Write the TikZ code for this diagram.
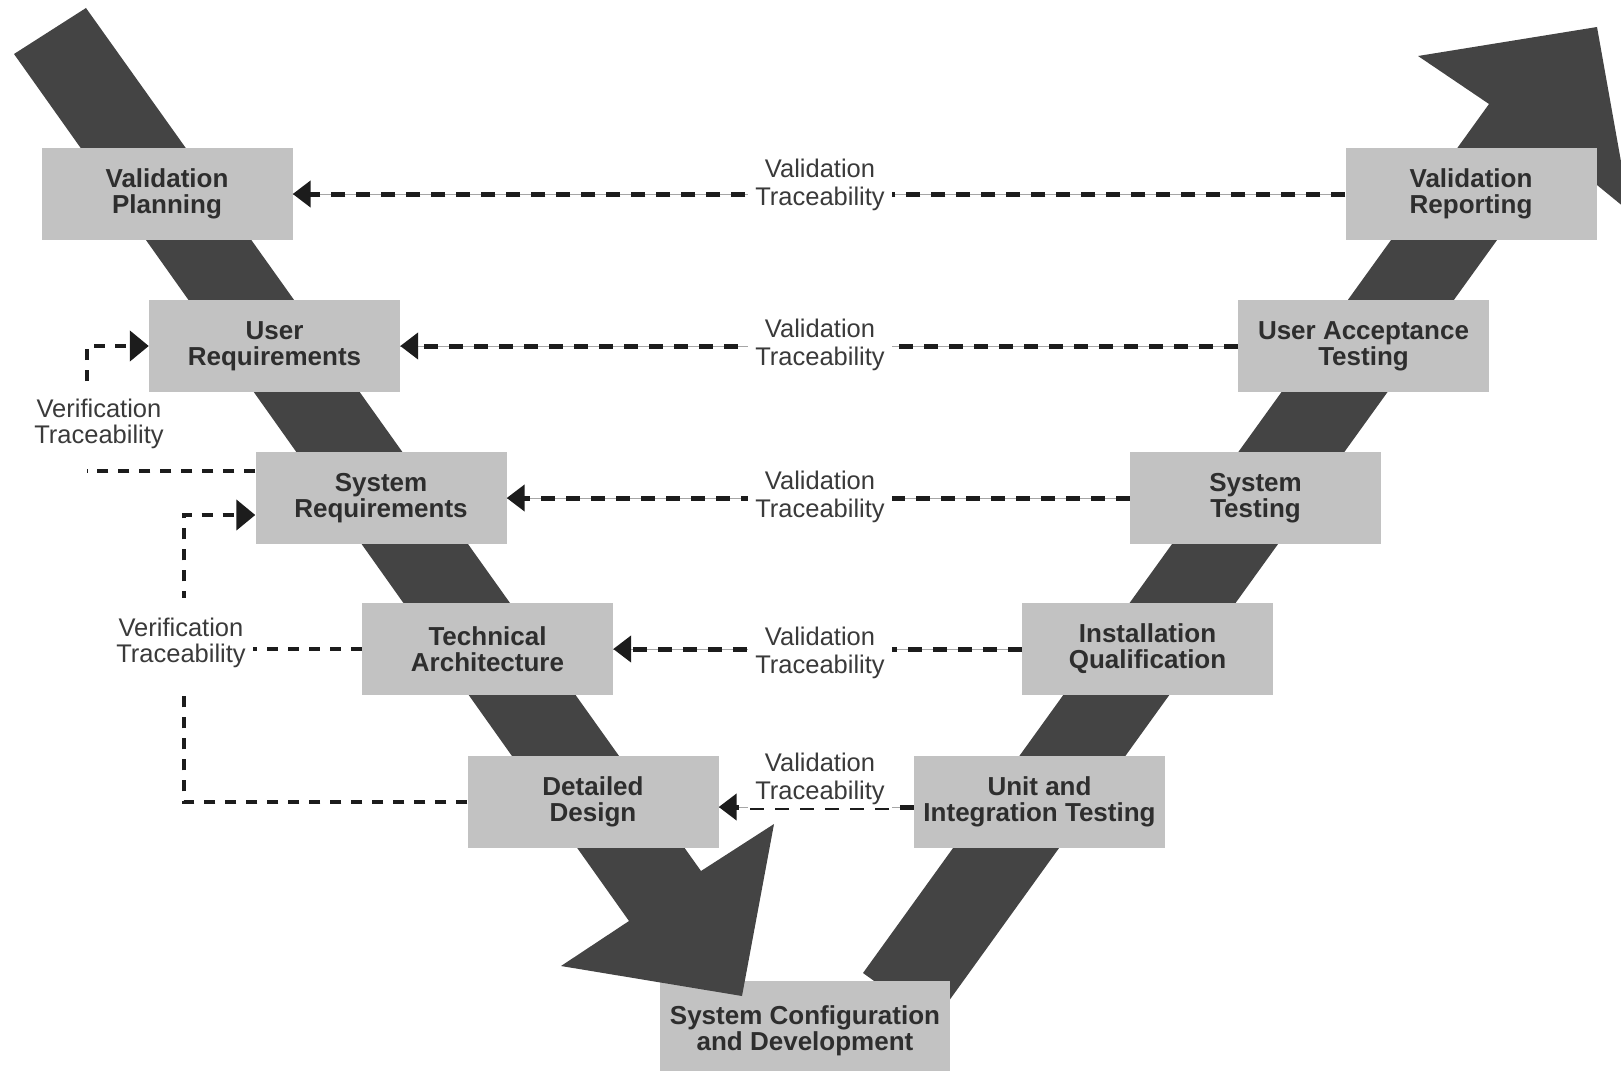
\documentclass[tikz,border=0pt]{standalone}
\usepackage{fontspec}
\setmainfont{Liberation Sans}
\usetikzlibrary{arrows.meta}
\definecolor{bandgray}{HTML}{444444}
\definecolor{boxfill}{HTML}{C2C2C2}
\definecolor{boxtext}{HTML}{2E2E2E}
\definecolor{dashcol}{HTML}{1C1C1C}
\definecolor{labeltext}{HTML}{3A3A3A}

\begin{document}
\begin{tikzpicture}[x=1pt,y=-1pt,
  stage/.style={rectangle, fill=boxfill, minimum width=251pt, minimum height=92pt,
    inner sep=0pt, align=center, text=boxtext, font=\fontsize{26}{26}\selectfont\bfseries},
  vlabel/.style={fill=white, align=center, text=labeltext,
    font=\fontsize{25.5}{28.5}\selectfont, inner xsep=7pt, inner ysep=3pt},
  verlabel/.style={vlabel, font=\fontsize{25.5}{26.5}\selectfont, inner ysep=0pt},
  trace/.style={draw=dashcol, line width=5pt, dash pattern=on 14pt off 11pt,
    -{Triangle[length=18pt,width=26pt]},
    preaction={draw=gray!70, solid, line width=1pt, -}},
  verif/.style={draw=dashcol, line width=4.5pt, dash pattern=on 11pt off 10pt},
  verifarrow/.style={verif, -{Triangle[length=19pt,width=30pt]}},
]
\useasboundingbox (0,0) rectangle (1621,1070);
\clip (0,0) rectangle (1621,1070);

% rising band of the V (testing side)
\fill[bandgray] (863,973) -- (1489,104) -- (1418,56) -- (1597,27) -- (1630,212)
  -- (1559,154) -- (933,1023) -- cycle;

% bottom of the V
\node[stage, minimum width=290pt, minimum height=100pt] (scd) at (805,1031)
  {System Configuration\\and Development};

% falling band of the V (specification side)
\fill[bandgray] (86,8) -- (701,871) -- (774,824) -- (742,996) -- (561,966)
  -- (629,921) -- (14,54) -- cycle;

% specification stages
\node[stage] (vp) at (167,194) {Validation\\Planning};
\node[stage] (ur) at (274.5,346) {User\\Requirements};
\node[stage] (sr) at (381,498) {System\\Requirements};
\node[stage] (ta) at (487.5,649) {Technical\\Architecture};
\node[stage] (dd) at (593,802) {Detailed\\Design};

% testing stages
\node[stage] (uit) at (1039.5,802) {Unit and\\Integration Testing};
\node[stage] (iq)  at (1147.5,649) {Installation\\Qualification};
\node[stage] (st)  at (1255.5,498) {System\\Testing};
\node[stage] (uat) at (1363.5,346) {User Acceptance\\Testing};
\node[stage] (vr)  at (1471,194) {Validation\\Reporting};

% validation traceability links
\draw[trace] (vr.west) -- (vp.east);
\draw[trace] (uat.west) -- (ur.east);
\draw[trace] (st.west) -- (sr.east);
\draw[trace] (iq.west) -- (ta.east);
\draw[trace] ([yshift=-5pt]uit.west) -- ([yshift=-5pt]dd.east);

\node[vlabel] (t1) at (820,185) {Validation\\Traceability};
\node[vlabel] (t2) at (820,345) {Validation\\Traceability};
\node[vlabel] (t3) at (820,497) {Validation\\Traceability};
\node[vlabel] (t4) at (820,653) {Validation\\Traceability};
\node[vlabel] (t5) at (820,779) {Validation\\Traceability};

% verification traceability links
\node[verlabel, fill=none] (vt1) at (99,424) {Verification\\Traceability};
\coordinate (c0) at (87,471);
\coordinate (c0b) at (87,381);
\coordinate (c1) at (87,346);
\draw[verif] ([yshift=27pt]sr.west) -- (c0);
\draw[verifarrow] (c0b) -- (c1) -- (ur.west);

\coordinate (c2) at (184,802);
\coordinate (c3) at (184,515);
\draw[verifarrow] (dd.west) -- (c2) -- (c3) -- ([yshift=-17pt]sr.west);

\node[verlabel, minimum height=90pt] (vt2) at (181,643) {Verification\\Traceability};
\draw[verif] (ta.west) -- (ta.west -| vt2.east);
\end{tikzpicture}
\end{document}
